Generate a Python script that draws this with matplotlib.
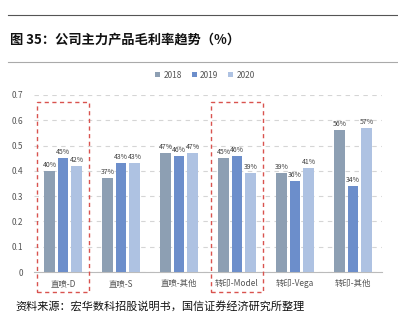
import matplotlib
matplotlib.use("Agg")
import matplotlib.pyplot as plt
from matplotlib.patches import Rectangle
import numpy as np

plt.rcParams['font.family'] = ['Noto Sans CJK SC', 'DejaVu Sans']

categories = ["直喷-D", "直喷-S", "直喷-其他", "转印-Model", "转印-Vega", "转印-其他"]
years = ["2018", "2019", "2020"]
v2018 = [0.40, 0.37, 0.47, 0.45, 0.39, 0.56]
v2019 = [0.45, 0.43, 0.46, 0.46, 0.36, 0.34]
v2020 = [0.42, 0.43, 0.47, 0.39, 0.41, 0.57]
yticks = [0, 0.1, 0.2, 0.3, 0.4, 0.5, 0.6, 0.7]
highlight = [0, 3]

colors = ["#8D9FB3", "#6C8ECB", "#AEC2E2"]

W, H = 398, 326
fig = plt.figure(figsize=(W / 100, H / 100), dpi=100)

def fx(px):
    return px / W

def fy(py):
    return 1 - py / H

ax = fig.add_axes([fx(34), fy(272), fx(382 - 34), (272 - 95) / H])

x = np.arange(len(categories))
step = 0.232
bw = 0.175
series = [v2018, v2019, v2020]
for i, (vals, c, yr) in enumerate(zip(series, colors, years)):
    xs = x + (i - 1) * step
    ax.bar(xs, vals, width=bw, color=c, label=yr, zorder=3)
    for xi, v in zip(xs, vals):
        ax.text(xi, v + 0.008, f"{round(v * 100):d}%", ha="center", va="bottom",
                fontsize=5.0, color="#404040", zorder=4)

ax.set_xlim(-0.5, len(categories) - 0.5)
ax.set_ylim(0, 0.7)
ax.set_yticks(yticks)
ax.set_yticklabels([f"{t:g}" for t in yticks])
ax.set_xticks(x)
ax.set_xticklabels(categories)
ax.tick_params(axis="both", labelsize=6, colors="#555555", length=0)
ax.tick_params(axis="x", pad=5)
ax.tick_params(axis="y", pad=8)
for s in ["top", "right", "left"]:
    ax.spines[s].set_visible(False)
ax.spines["bottom"].set_color("#BBBBBB")
ax.grid(axis="y", linestyle=(0, (4, 4)), color="#D5D5D5", linewidth=0.8, zorder=0)
ax.set_axisbelow(True)

for g in highlight:
    r = Rectangle((g - 0.45, -0.079), 0.9, 0.672 + 0.079, fill=False,
                  edgecolor="#D9534F", linestyle=(0, (3, 2.5)), linewidth=1.0,
                  clip_on=False, zorder=5)
    ax.add_patch(r)

leg = fig.legend(loc="center", bbox_to_anchor=(fx(205), fy(75)), ncol=3, frameon=False,
                 fontsize=6, handlelength=0.6, handleheight=0.6, handletextpad=0.4,
                 columnspacing=1.2)
for t in leg.get_texts():
    t.set_color("#555555")

fig.add_artist(plt.Line2D([fx(8), fx(398)], [fy(15), fy(15)], color="#555555", linewidth=0.8))
fig.add_artist(plt.Line2D([fx(8), fx(398)], [fy(62), fy(62)], color="#AAAAAA", linewidth=0.8))
fig.text(fx(10), fy(39), "图 35：公司主力产品毛利率趋势（%）", fontsize=9.5, fontweight="bold",
         color="#111111", va="center", ha="left")
fig.text(fx(15), fy(307), "资料来源：宏华数科招股说明书，国信证券经济研究所整理", fontsize=8,
         color="#111111", va="center", ha="left")

fig.savefig("out.png", dpi=100)
